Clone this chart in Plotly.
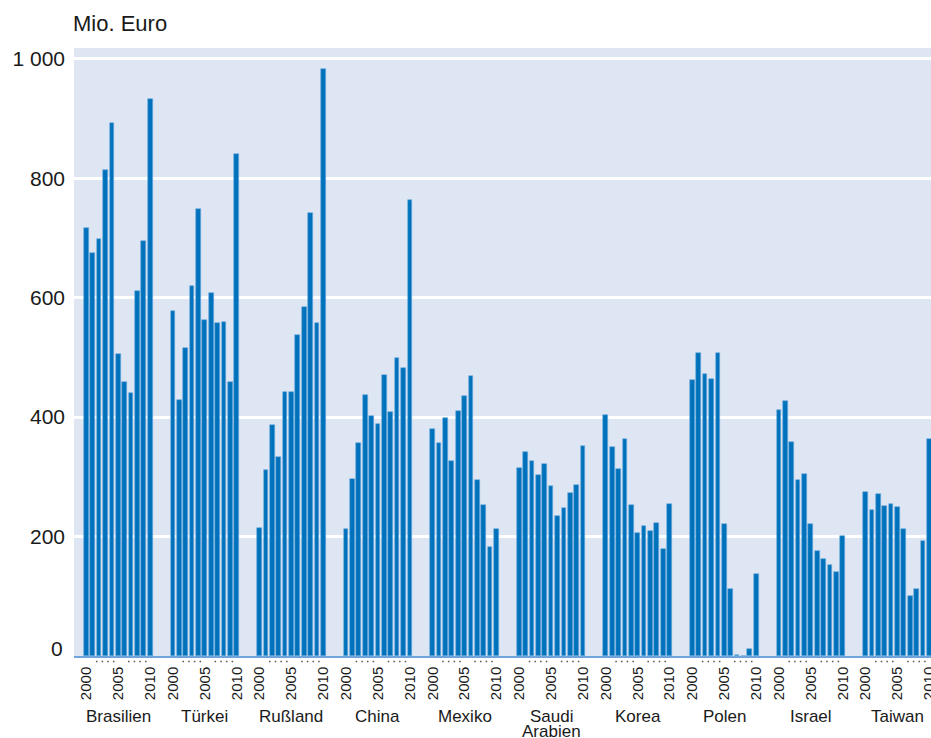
import plotly.graph_objects as go

countries = ["Brasilien", "Türkei", "Rußland", "China", "Mexiko",
             "Saudi<br>Arabien", "Korea", "Polen", "Israel", "Taiwan"]
years = list(range(2000, 2011))

brasilien = [716, 674, 698, 814, 892, 505, 459, 441, 611, 695, 933]
tuerkei = [578, 428, 515, 620, 749, 562, 607, 557, 560, 458, 840]
russland = [215, 311, 386, 334, 442, 442, 537, 584, 741, 558, 983]
china = [213, 297, 357, 437, 402, 389, 470, 409, 499, 482, 764]
mexiko = [380, 356, 398, 326, 411, 435, 469, 294, 253, 183, 212]
saudi_arabien = [315, 341, 326, 303, 322, 284, 235, 248, 273, 287, 351]
korea = [404, 350, 313, 364, 253, 206, 218, 209, 222, 180, 254]
polen = [462, 508, 472, 464, 508, 221, 112, 2, 0, 12, 137]
israel = [412, 427, 359, 294, 305, 221, 175, 162, 153, 140, 201]
taiwan = [274, 245, 272, 251, 255, 249, 213, 101, 113, 192, 364]

series = [brasilien, tuerkei, russland, china, mexiko,
          saudi_arabien, korea, polen, israel, taiwan]

y_ticks = [0, 200, 400, 600, 800, 1000]
y_ticktext = ["", "200", "400", "600", "800", "1 000"]
label_years = [2000, 2005, 2010]

GROUP = 13.57  # slot pitch between country groups

xs, ys = [], []
for gi, vals in enumerate(series):
    for yi, v in enumerate(vals):
        xs.append(gi * GROUP + yi)
        ys.append(v)

tickvals, ticktext = [], []
for gi in range(len(countries)):
    for yr in label_years:
        tickvals.append(gi * GROUP + (yr - years[0]))
        ticktext.append(str(yr))

FONT = "Liberation Sans, Arial, sans-serif"

fig = go.Figure()
fig.add_trace(go.Bar(
    x=xs, y=ys, width=0.74,
    marker=dict(color="#0072bc", line=dict(color="#6fa9dc", width=0.6)),
    hoverinfo="skip", showlegend=False,
))

PLOT_H = 738 - 48 - 82
PLOT_W = 931 - 74

shapes = []
for gi in range(len(countries)):
    base = gi * GROUP
    for start in (1.5, 6.53):
        shapes.append(dict(
            type="line", xref="x", yref="paper",
            x0=base + start, x1=base + start + 2.92,
            y0=-5.5 / PLOT_H, y1=-5.5 / PLOT_H,
            line=dict(color="#555555", width=1.5, dash="1.5px,4.17px"),
        ))

annotations = []
for gi, name in enumerate(countries):
    for li, line in enumerate(name.split("<br>")):
        annotations.append(dict(
            x=gi * GROUP + 5, xref="x", y=-(60 + 15 * li) / PLOT_H, yref="paper",
            text=line, showarrow=False, xanchor="center", yanchor="middle",
            font=dict(family=FONT, size=17, color="#1a1a1a"),
        ))
annotations.append(dict(
    x=-3 / PLOT_W, xref="paper", y=1 + 24 / PLOT_H, yref="paper",
    text="Mio. Euro", showarrow=False, xanchor="left", yanchor="middle",
    font=dict(family=FONT, size=22, color="#1a1a1a"),
))
annotations.append(dict(
    x=-9 / PLOT_W, xref="paper", y=12, yref="y",
    text="0", showarrow=False, xanchor="right", yanchor="middle",
    font=dict(family=FONT, size=21, color="#1a1a1a"),
))

fig.update_layout(
    width=931, height=738,
    margin=dict(l=74, r=0, t=48, b=82, autoexpand=False),
    paper_bgcolor="white", plot_bgcolor="#dfe6f3",
    font=dict(family=FONT, color="#1a1a1a"),
    shapes=shapes, annotations=annotations,
    bargap=0,
)
fig.update_xaxes(
    range=[-1.94, 132.4], tickmode="array", tickvals=tickvals, ticktext=ticktext,
    tickangle=-90, tickfont=dict(size=15), showgrid=False, zeroline=False,
    showline=True, linecolor="#6ea6dc", linewidth=1.5, ticks="",
    ticklabelstandoff=3, automargin=False, ticklabeloverflow="allow",
)
fig.update_yaxes(
    range=[0, 1018], tickmode="array", tickvals=y_ticks, ticktext=y_ticktext,
    tickfont=dict(size=21), showgrid=True, gridcolor="white", gridwidth=3,
    zeroline=False, ticks="", ticklabelstandoff=8, automargin=False,
)

fig.write_html(
    "out.html",
    config={"displayModeBar": False},
    post_script="document.body.style.margin='0';document.body.style.padding='0';",
)
